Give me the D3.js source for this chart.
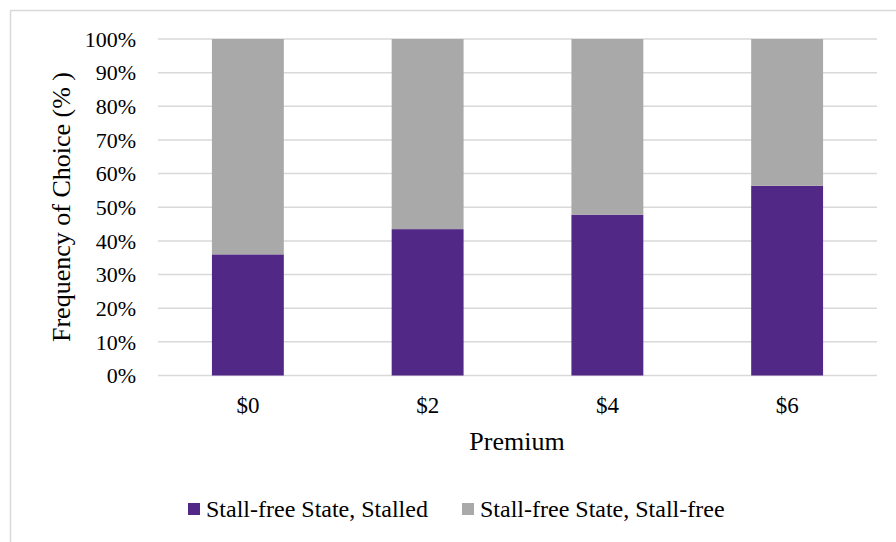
<!DOCTYPE html>
<html>
<head>
<meta charset="utf-8">
<script src="https://cdn.jsdelivr.net/npm/d3@7"></script>
<style>
  body { margin: 0; background: #fff; }
  svg { display: block; font-family: "Liberation Serif", "Times New Roman", serif; }
</style>
</head>
<body>
<div id="chart"></div>
<script>
const premiums = ["$0", "$2", "$4", "$6"];
const stalled = [36, 43.5, 47.8, 56.4];
const stallFree = [64, 56.5, 52.2, 43.6];
const seriesNames = ["Stall-free State, Stalled", "Stall-free State, Stall-free"];
const yTicks = [0, 10, 20, 30, 40, 50, 60, 70, 80, 90, 100];

const width = 896, height = 542;
const colors = ["#522886", "#a9a9a9"];

const svg = d3.select("#chart").append("svg")
  .attr("width", width)
  .attr("height", height);

// outer chart border (runs off the right and bottom)
svg.append("rect")
  .attr("x", 10.5).attr("y", 10.5)
  .attr("width", width).attr("height", height)
  .attr("fill", "none")
  .attr("stroke", "#d9d9d9")
  .attr("stroke-width", 1.5);

const x = d3.scaleBand()
  .domain(premiums)
  .range([158, 877])
  .paddingInner(0.6)
  .paddingOuter(0.3);

const y = d3.scaleLinear()
  .domain([0, 100])
  .range([375.5, 39]);

// gridlines
svg.append("g")
  .selectAll("line")
  .data(yTicks)
  .join("line")
    .attr("x1", 158).attr("x2", 877)
    .attr("y1", d => y(d)).attr("y2", d => y(d))
    .attr("stroke", "#d9d9d9")
    .attr("stroke-width", 1.5);

// y tick labels
svg.append("g")
  .selectAll("text")
  .data(yTicks)
  .join("text")
    .attr("x", 136)
    .attr("y", d => y(d))
    .attr("dy", "0.35em")
    .attr("text-anchor", "end")
    .attr("font-size", "22px")
    .attr("fill", "#000")
    .text(d => d + "%");

// stacked bars
const rows = premiums.map((p, i) => ({ premium: p, stalled: stalled[i], free: stallFree[i] }));
const stack = d3.stack().keys(["stalled", "free"]);
const layers = stack(rows);

svg.append("g")
  .selectAll("g")
  .data(layers)
  .join("g")
    .attr("fill", (d, i) => colors[i])
  .selectAll("rect")
  .data(d => d)
  .join("rect")
    .attr("x", d => x(d.data.premium))
    .attr("y", d => y(d[1]))
    .attr("width", x.bandwidth())
    .attr("height", d => y(d[0]) - y(d[1]));

// x labels
svg.append("g")
  .selectAll("text")
  .data(premiums)
  .join("text")
    .attr("x", d => x(d) + x.bandwidth() / 2)
    .attr("y", 413)
    .attr("text-anchor", "middle")
    .attr("font-size", "23px")
    .text(d => d);

svg.append("text")
  .attr("x", 517)
  .attr("y", 450)
  .attr("text-anchor", "middle")
  .attr("font-size", "26px")
  .text("Premium");

svg.append("text")
  .attr("transform", "translate(70,207) rotate(-90)")
  .attr("text-anchor", "middle")
  .attr("font-size", "26px")
  .text("Frequency of Choice (% )");

// legend
const legendX = [188, 462];
const legend = svg.append("g")
  .selectAll("g")
  .data(seriesNames)
  .join("g")
    .attr("transform", (d, i) => "translate(" + legendX[i] + ",503)");

legend.append("rect")
  .attr("width", 12).attr("height", 12)
  .attr("fill", (d, i) => colors[i]);

legend.append("text")
  .attr("x", 18)
  .attr("y", 6)
  .attr("dy", "0.35em")
  .attr("font-size", "24px")
  .text(d => d);
</script>
</body>
</html>
